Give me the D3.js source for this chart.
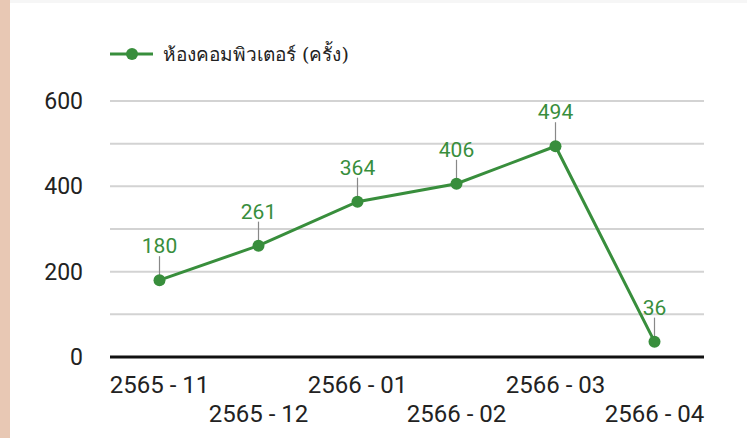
<!DOCTYPE html>
<html>
<head>
<meta charset="utf-8">
<script src="https://cdn.jsdelivr.net/npm/d3@7"></script>
<style>
  body { margin: 0; background: #fff; }
  svg { display: block; }
</style>
</head>
<body>
<svg id="chart" width="747" height="438"></svg>
<script>
// Chart data
const months = ["2565 - 11", "2565 - 12", "2566 - 01", "2566 - 02", "2566 - 03", "2566 - 04"];
const visits = [180, 261, 364, 406, 494, 36];
const yTicks = [0, 200, 400, 600];
const seriesName = "ห้องคอมพิวเตอร์ (ครั้ง)";

const green = "#388e3c";
const svg = d3.select("#chart");

// page background bits
svg.append("rect").attr("width", 747).attr("height", 438).attr("fill", "#fff");
svg.append("rect").attr("width", 747).attr("height", 3).attr("fill", "#f6f6f6");
svg.append("rect").attr("width", 10).attr("height", 438).attr("fill", "#e8c8b4");

const margin = { top: 101, right: 43, bottom: 81, left: 110 };
const width = 747 - margin.left - margin.right;
const height = 438 - margin.top - margin.bottom;
const g = svg.append("g").attr("transform", `translate(${margin.left},${margin.top})`);

const x = d3.scaleBand().domain(months).range([0, width]);
const y = d3.scaleLinear().domain([0, 600]).range([height, 0]);

// gridlines every 100
g.selectAll(".grid")
  .data(d3.range(100, 601, 100))
  .enter().append("line")
  .attr("x1", 0).attr("x2", width)
  .attr("y1", d => y(d)).attr("y2", d => y(d))
  .attr("stroke", "#d3d3d3")
  .attr("stroke-width", 2);

// baseline
g.append("line")
  .attr("x1", 0).attr("x2", width)
  .attr("y1", y(0)).attr("y2", y(0))
  .attr("stroke", "#111")
  .attr("stroke-width", 3);

// y axis labels
const yAxis = g.append("g")
  .call(d3.axisLeft(y).tickValues(yTicks).tickSize(0).tickPadding(27));
yAxis.select(".domain").remove();
yAxis.selectAll("text")
  .attr("font-family", "Roboto, sans-serif")
  .attr("font-size", 23)
  .attr("fill", "#222");

// x axis labels, staggered
const xAxis = g.append("g")
  .attr("transform", `translate(0,${height})`)
  .call(d3.axisBottom(x).tickSize(0));
xAxis.select(".domain").remove();
xAxis.selectAll("text")
  .attr("font-family", "Roboto, sans-serif")
  .attr("font-size", 24)
  .attr("fill", "#222")
  .attr("y", (d, i) => i % 2 === 0 ? 19 : 48)
  .attr("dy", "0.71em");

const cx = d => x(d) + x.bandwidth() / 2;
const pts = months.map((m, i) => ({ m, v: visits[i] }));

const line = d3.line()
  .x(d => cx(d.m))
  .y(d => y(d.v));

g.append("path")
  .datum(pts)
  .attr("d", line)
  .attr("fill", "none")
  .attr("stroke", green)
  .attr("stroke-width", 3);

// leader lines
g.selectAll(".leader")
  .data(pts)
  .enter().append("line")
  .attr("x1", d => cx(d.m)).attr("x2", d => cx(d.m))
  .attr("y1", d => y(d.v) - 5).attr("y2", d => y(d.v) - 24)
  .attr("stroke", "#888")
  .attr("stroke-width", 1.2);

g.selectAll(".dot")
  .data(pts)
  .enter().append("circle")
  .attr("cx", d => cx(d.m))
  .attr("cy", d => y(d.v))
  .attr("r", 6)
  .attr("fill", green);

g.selectAll(".val")
  .data(pts)
  .enter().append("text")
  .attr("x", d => cx(d.m))
  .attr("y", d => y(d.v) - 27)
  .attr("text-anchor", "middle")
  .attr("font-family", "Roboto, sans-serif")
  .attr("font-size", 21)
  .attr("fill", green)
  .text(d => d.v);

// legend
const leg = svg.append("g").attr("transform", "translate(110,54)");
leg.append("line").attr("x1", 0).attr("x2", 43).attr("stroke", green).attr("stroke-width", 3);
leg.append("circle").attr("cx", 22).attr("r", 6).attr("fill", green);
leg.append("text")
  .attr("x", 53).attr("y", 0).attr("dy", "0.38em")
  .attr("font-family", "'DejaVu Serif', serif")
  .attr("font-size", 19)
  .attr("fill", "#222")
  .text(seriesName);
</script>
</body>
</html>
